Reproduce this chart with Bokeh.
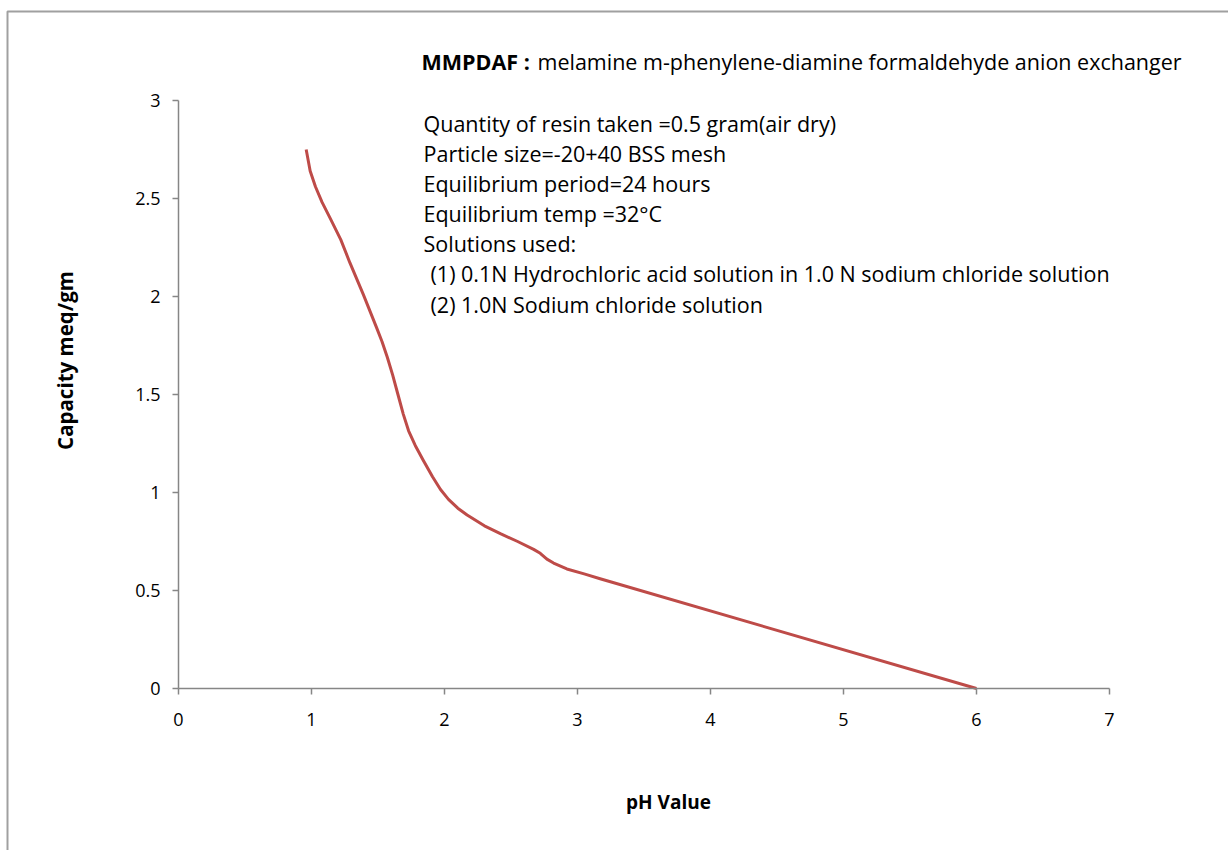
import math
from bokeh.plotting import figure
from bokeh.models import Label, Range1d, FixedTicker, BoxAnnotation
from bokeh.embed import file_html
from bokeh.resources import INLINE

# ---- data ----
ph_values = [0.96, 0.99, 1.03, 1.08, 1.14, 1.22, 1.29, 1.39, 1.49, 1.53, 1.57, 1.61,
             1.65, 1.69, 1.73, 1.78, 1.84, 1.91, 1.97, 2.03, 2.10, 2.17, 2.30, 2.42,
             2.55, 2.67, 2.72, 2.77, 2.82, 2.92, 3.05, 3.17, 6.00]
capacity = [2.75, 2.64, 2.56, 2.48, 2.40, 2.29, 2.17, 2.01, 1.84, 1.77, 1.69, 1.60,
            1.50, 1.40, 1.315, 1.24, 1.165, 1.08, 1.015, 0.965, 0.92, 0.885, 0.83, 0.79,
            0.75, 0.71, 0.69, 0.66, 0.64, 0.61, 0.585, 0.56, 0.00]
x_ticks = [0, 1, 2, 3, 4, 5, 6, 7]
y_ticks = [0, 0.5, 1, 1.5, 2, 2.5, 3]

title_bold = "MMPDAF :"
title_rest = "melamine  m-phenylene-diamine  formaldehyde  anion  exchanger"
info_lines = [
    "Quantity of resin taken =0.5 gram(air dry)",
    "Particle size=-20+40  BSS mesh",
    "Equilibrium  period=24  hours",
    "Equilibrium  temp =32\u00b0C",
    "Solutions  used:",
    "(1) 0.1N Hydrochloric  acid solution  in 1.0 N sodium  chloride  solution",
    "(2)  1.0N Sodium  chloride  solution",
]
x_title = "pH Value"
y_title = "Capacity meq/gm"

FONT = "Open Sans"
AXIS_COLOR = "#868686"
LINE_COLOR = "#BE4B48"
BORDER_COLOR = "#a0a0a0"

# layout: the plotting frame fills the whole canvas; axes are pinned at 0
W, H = 1228, 850
X0_PX, PX_PER_X = 178.0, 133.0   # pixel of pH 0, pixels per pH unit
Y0_PX, PX_PER_Y = 688.0, 196.0   # pixel of capacity 0, pixels per unit

def dx(px):
    return (px - X0_PX) / PX_PER_X

def dy(py):
    return (Y0_PX - py) / PX_PER_Y

p = figure(frame_width=W, frame_height=H, output_backend="svg", toolbar_location=None,
           title=None,
           x_range=Range1d(dx(0), dx(W)), y_range=Range1d(dy(H), dy(0)),
           min_border_left=0, min_border_right=0, min_border_top=0, min_border_bottom=0)
p.outline_line_color = None
p.xgrid.visible = False
p.ygrid.visible = False
p.background_fill_color = "white"
p.border_fill_color = "white"

for ax, ticks in ((p.xaxis[0], x_ticks), (p.yaxis[0], y_ticks)):
    ax.ticker = FixedTicker(ticks=ticks)
    ax.fixed_location = 0
    ax.bounds = (ticks[0], ticks[-1])
    ax.axis_line_color = AXIS_COLOR
    ax.axis_line_width = 1.5
    ax.major_tick_line_color = AXIS_COLOR
    ax.major_tick_line_width = 1.5
    ax.major_tick_out = 6
    ax.major_tick_in = 0
    ax.minor_tick_line_color = None
    ax.major_label_text_font = FONT
    ax.major_label_text_font_size = "18px"
    ax.major_label_text_color = "#000000"
p.xaxis.major_label_standoff = 18
p.yaxis.major_label_standoff = 12
p.xaxis.major_label_overrides = {t: str(t) for t in x_ticks}
p.yaxis.major_label_overrides = {t: ("%g" % t) for t in y_ticks}

# outer chart border (top and left edges visible)
p.add_layout(BoxAnnotation(left=dx(7), top=dy(11), right=dx(W + 200), bottom=dy(H + 200),
                           fill_color=None, fill_alpha=0, line_color=BORDER_COLOR,
                           line_alpha=1.0, line_width=2, level="underlay"))

p.line(ph_values, capacity, line_color=LINE_COLOR, line_width=3, line_join="round")

def add_label(text, px, py, bold=False, size="21.5px", angle=0, align="left"):
    p.add_layout(Label(x=dx(px), y=dy(py), text=text, text_font=FONT, text_font_size=size,
                       text_font_style="bold" if bold else "normal",
                       text_color="#000000", text_baseline="middle",
                       text_align=align, angle=angle))

add_label(title_bold, 421, 61, bold=True)
add_label(title_rest, 537, 61)
ys = [123, 153, 183, 213, 243, 273, 304]
xs = [423, 423, 423, 423, 423, 430, 430]
for line, x, y in zip(info_lines, xs, ys):
    add_label(line, x, y)

add_label(x_title, 668, 801, bold=True, size="19px", align="center")
add_label(y_title, 64, 360, bold=True, size="20.5px", angle=math.pi / 2, align="center")

open("out.html", "w").write(file_html(p, INLINE))
